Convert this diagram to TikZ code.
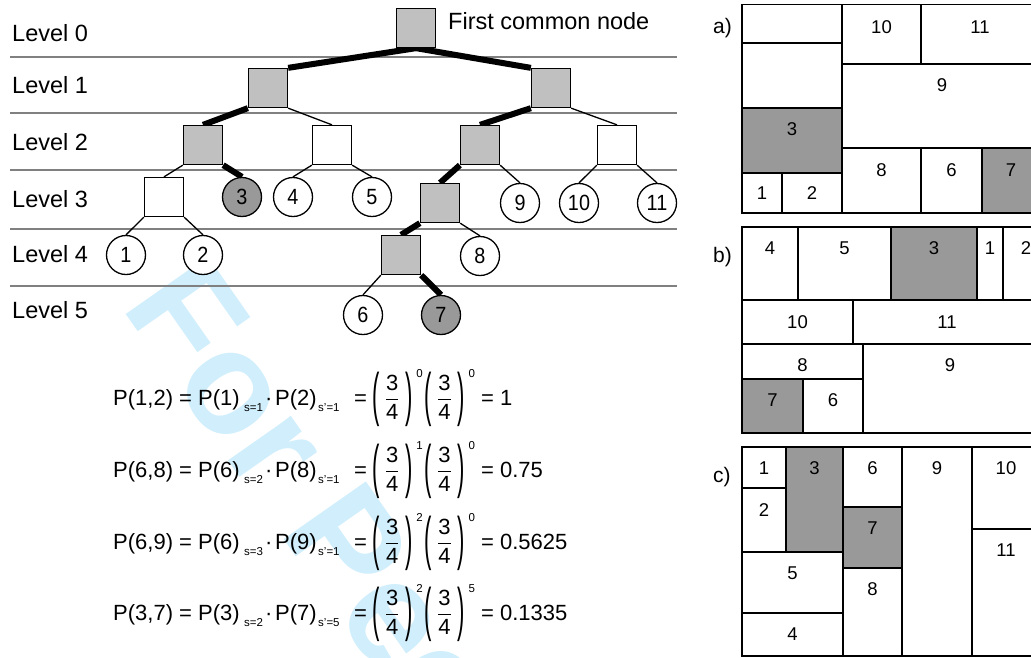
\documentclass[tikz,border=0pt]{standalone}
\usepackage{fontspec}
\usepackage{amsmath}
\usepackage{graphicx}
\setmainfont{Liberation Sans}
\newfontfamily\cfontfam{Liberation Sans}[FakeStretch=0.9]
\newcommand\cfont{\cfontfam\fontsize{22}{23}\selectfont}
\newcommand\ff{\fontsize{22}{24}\selectfont}
\newcommand\fsub{\fontsize{11.5}{12}\selectfont}
\newcommand\lpar{\raisebox{-9.7pt}{\scalebox{1}[2.66]{(}}}
\newcommand\rpar{\raisebox{-9.7pt}{\scalebox{1}[2.66]{)}}}
\newcommand\pq[1]{\lpar\hspace{5.5pt}$\genfrac{}{}{0.8pt}{0}{\text{3}}{\text{4}}$\hspace{5.5pt}\rpar\hspace{4pt}\raisebox{28pt}{\fsub #1}}
\pgfdeclarelayer{wm}
\pgfdeclarelayer{lines}
\pgfdeclarelayer{edges}
\pgfsetlayers{wm,lines,edges,main}
\definecolor{sqgray}{RGB}{192,192,192}
\definecolor{dkgray}{RGB}{153,153,153}
\definecolor{lvline}{RGB}{128,128,128}
\definecolor{wmblue}{RGB}{208,238,252}
\tikzset{
  sq/.style={draw=black, line width=1.3pt, minimum size=39pt, inner sep=0pt, fill=sqgray},
  wsq/.style={sq, fill=white},
  cir/.style={circle, draw=black, line width=1.3pt, minimum size=39pt, inner sep=0pt, fill=white, font=\cfont},
  dcir/.style={cir, fill=dkgray},
  thinedge/.style={line width=1.3pt},
  thickedge/.style={line width=6pt},
  lvl/.style={anchor=base west, inner sep=0pt, font=\fontsize{23.5}{25}\selectfont},
  lvlline/.style={draw=lvline, line width=1.5pt},
  cell/.style={draw=black, line width=1.6pt},
  pn/.style={inner sep=0pt, font=\fontsize{18.5}{20}\selectfont},
  plab/.style={anchor=base west, inner sep=0pt, font=\fontsize{21}{22}\selectfont},
  ftx/.style={anchor=base west, inner sep=0pt, font=\ff},
  fsb/.style={anchor=base west, inner sep=0pt, font=\fsub},
  wmark/.style={anchor=base west, inner sep=0pt, rotate=-55, text=wmblue,
     font=\bfseries\fontsize{146}{150}\selectfont}
}
\newcommand\frow[9]{%
  \node[ftx] (f#1a) at (113,#1) {P(#2) = P(#3)};
  \node[fsb] (f#1b) at (244,#1+6) {#4};
  \node[ftx] (f#1c) at (265,#1) {·};
  \node[ftx] (f#1d) at (275,#1) {P(#5)};
  \node[fsb] (f#1e) at (318,#1+6) {#6};
  \node[ftx] (f#1f) at (354,#1) {=};
  \node[ftx] (f#1g) at (372,#1) {\pq{#7}\hspace{1.5pt}\pq{#8}};
  \node[ftx] (f#1h) at (481,#1) {= #9};
}
\begin{document}
\begin{tikzpicture}[x=1pt,y=-1pt]
\useasboundingbox (0,0) rectangle (1031,657);
% watermark
\begin{pgfonlayer}{wm}
\node[wmark] (wmk) at (120,306) {For Peer Review};
\end{pgfonlayer}
% level lines
\begin{pgfonlayer}{lines}
\foreach \yy in {57,113,170,229,286}{\draw[lvlline] (10,\yy) -- (677,\yy);}
\end{pgfonlayer}
% level labels
\node[lvl] (l0) at (12,41.7) {Level 0};
\node[lvl] (l1) at (12,93) {Level 1};
\node[lvl] (l2) at (12,150) {Level 2};
\node[lvl] (l3) at (12,207) {Level 3};
\node[lvl] (l4) at (12,262) {Level 4};
\node[lvl] (l5) at (12,318) {Level 5};
% tree nodes
\node[sq] (root) at (416,28) {};
\node[lvl] (fcn) at (448,29.5) {First common node};
\node[sq] (a1) at (268,88) {};
\node[sq] (b1) at (551,88) {};
\node[sq] (a2) at (203,145) {};
\node[wsq] (a3) at (332,145) {};
\node[sq] (b2) at (480,145) {};
\node[wsq] (b3) at (617,145) {};
\node[wsq] (a4) at (164,197) {};
\node[dcir] (c3) at (242,197) {3};
\node[cir] (c4) at (293,197) {4};
\node[cir] (c5) at (372,197) {5};
\node[sq] (b4) at (440,203) {};
\node[cir] (c9) at (520,203) {9};
\node[cir] (c10) at (579,203) {10};
\node[cir] (c11) at (657,203) {11};
\node[cir] (c1) at (126,255) {1};
\node[cir] (c2) at (203,255) {2};
\node[sq] (b5) at (401,255) {};
\node[cir] (c8) at (480,256) {8};
\node[cir] (c6) at (363,315) {6};
\node[dcir] (c7) at (441,315) {7};
% edges
\begin{pgfonlayer}{edges}
\draw[thickedge] (root.south) -- (a1.north east);
\draw[thickedge] (root.south) -- (b1.north west);
\draw[thickedge] (a1.south west) -- (a2.north);
\draw[thinedge] (a1.south east) -- (a3.north);
\draw[thickedge] (b1.south west) -- (b2.north);
\draw[thinedge] (b1.south east) -- (b3.north);
\draw[thinedge] (a2.south west) -- (a4.north);
\draw[thickedge] (a2.south east) -- (c3.north);
\draw[thinedge] (a3.south west) -- (c4.north);
\draw[thinedge] (a3.south east) -- (c5.north);
\draw[thickedge] (b2.south west) -- (b4.north);
\draw[thinedge] (b2.south east) -- (c9.north);
\draw[thinedge] (b3.south west) -- (c10.north);
\draw[thinedge] (b3.south east) -- (c11.north);
\draw[thinedge] (a4.south west) -- (c1.north);
\draw[thinedge] (a4.south east) -- (c2.north);
\draw[thickedge] (b4.south west) -- (b5.north);
\draw[thinedge] (b4.south east) -- (c8.north);
\draw[thinedge] (b5.south west) -- (c6.north);
\draw[thickedge] (b5.south east) -- (c7.north);
\end{pgfonlayer}
% formulas
\frow{405}{1,2}{1}{s=1}{2}{s'=1}{0}{0}{1}
\frow{477}{6,8}{6}{s=2}{8}{s'=1}{1}{0}{0.75}
\frow{549}{6,9}{6}{s=3}{9}{s'=1}{2}{0}{0.5625}
\frow{620}{3,7}{3}{s=2}{7}{s'=5}{2}{5}{0.1335}
% panel a
\node[plab] (pa) at (713,33) {a)};
\fill[dkgray] (742,108) rectangle (842,173);
\fill[dkgray] (982,148) rectangle (1040,213);
\draw[cell] (742,4.5) rectangle (1040,213);
\draw[cell] (842,4.5) -- (842,213);
\draw[cell] (742,43) -- (842,43);
\draw[cell] (742,108) -- (842,108);
\draw[cell] (742,173) -- (842,173);
\draw[cell] (782,173) -- (782,213);
\draw[cell] (842,64) -- (1040,64);
\draw[cell] (921,4.5) -- (921,64);
\draw[cell] (842,148) -- (1040,148);
\draw[cell] (921,148) -- (921,213);
\draw[cell] (982,148) -- (982,213);
\node[pn] (a10) at (881.5,27) {10};
\node[pn] (a11) at (980,27) {11};
\node[pn] (a9) at (942,85) {9};
\node[pn] (a3l) at (792,129) {3};
\node[pn] (a8) at (881.5,170) {8};
\node[pn] (a6) at (951.5,170) {6};
\node[pn] (a7) at (1011,170) {7};
\node[pn] (a1l) at (762,193) {1};
\node[pn] (a2l) at (812,193) {2};
% panel b
\node[plab] (pb) at (713,262) {b)};
\fill[dkgray] (891,227) rectangle (977,300);
\fill[dkgray] (742,379) rectangle (803,433);
\draw[cell] (742,227) rectangle (1040,433);
\draw[cell] (798,227) -- (798,300);
\draw[cell] (891,227) -- (891,300);
\draw[cell] (977,227) -- (977,300);
\draw[cell] (1003,227) -- (1003,300);
\draw[cell] (742,300) -- (1040,300);
\draw[cell] (853,300) -- (853,344);
\draw[cell] (742,344) -- (1040,344);
\draw[cell] (863,344) -- (863,433);
\draw[cell] (742,379) -- (863,379);
\draw[cell] (803,379) -- (803,433);
\node[pn] (b4l) at (770,248) {4};
\node[pn] (b5l) at (844.5,248) {5};
\node[pn] (b3l) at (934,248) {3};
\node[pn] (b1l) at (990,248) {1};
\node[pn] (b2l) at (1026,248) {2};
\node[pn] (b10) at (797.5,322) {10};
\node[pn] (b11) at (947,322) {11};
\node[pn] (b8) at (802.5,365) {8};
\node[pn] (b9) at (950,365) {9};
\node[pn] (b7) at (772.5,400) {7};
\node[pn] (b6) at (833,400) {6};
% panel c
\node[plab] (pc) at (713,482) {c)};
\fill[dkgray] (786,447) rectangle (843,552);
\fill[dkgray] (843,507) rectangle (902,568);
\draw[cell] (742,447) rectangle (1040,656);
\draw[cell] (786,447) -- (786,552);
\draw[cell] (742,488) -- (786,488);
\draw[cell] (742,552) -- (843,552);
\draw[cell] (742,613) -- (843,613);
\draw[cell] (843,447) -- (843,656);
\draw[cell] (843,507) -- (902,507);
\draw[cell] (843,568) -- (902,568);
\draw[cell] (902,447) -- (902,656);
\draw[cell] (972,447) -- (972,656);
\draw[cell] (972,529) -- (1040,529);
\node[pn] (c1l) at (764,468) {1};
\node[pn] (c2l) at (764,510) {2};
\node[pn] (c3l) at (814.5,468) {3};
\node[pn] (c5l) at (792.5,573) {5};
\node[pn] (c4l) at (792.5,634) {4};
\node[pn] (c6l) at (872.5,468) {6};
\node[pn] (c7l) at (872.5,528) {7};
\node[pn] (c8l) at (872.5,589) {8};
\node[pn] (c9l) at (937,468) {9};
\node[pn] (c10l) at (1006,468) {10};
\node[pn] (c11l) at (1006,550) {11};
\end{tikzpicture}
\end{document}
